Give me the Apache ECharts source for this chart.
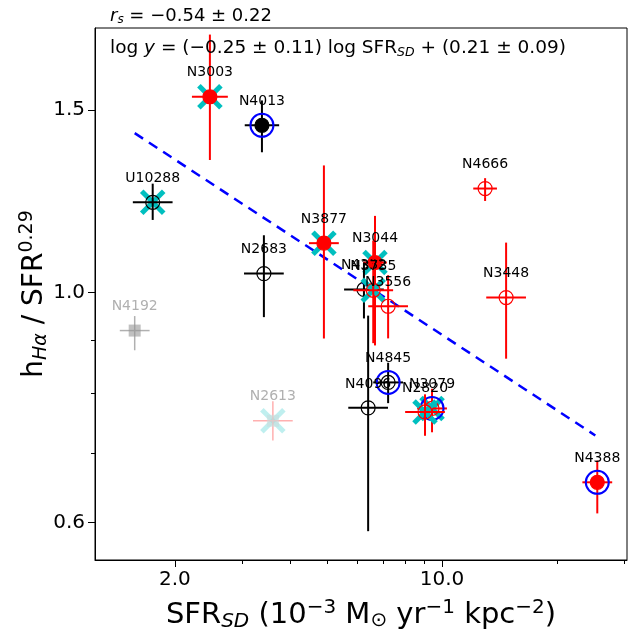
<!DOCTYPE html>
<html><head><meta charset="utf-8">
<script src="https://cdn.jsdelivr.net/npm/echarts@6/dist/echarts.min.js"></script>
<style>body{margin:0}#c{width:637px;height:633px}</style>
</head><body><div id="c"></div>
<script>
// galaxy data: SFR surface density, scaled scale height, errors in dex
var names  = ['N3003','N4013','U10288','N3877','N2683','N4666','N3448','N3044','N4332','N3735','N3556','N4845','N4096','N3079','N2820','N4388','N4192','N2613'];
var sfr    = [2.47, 3.38, 1.75, 4.91, 3.42, 12.97, 14.72, 6.68, 6.25, 6.61, 7.23, 7.23, 6.41, 9.42, 9.03, 25.5, 1.57, 3.61];
var hval   = [1.545, 1.45, 1.222, 1.116, 1.043, 1.26, 0.989, 1.069, 1.007, 1.005, 0.970, 0.819, 0.774, 0.773, 0.767, 0.656, 0.919, 0.752];
var xErr   = [0.047, 0.045, 0.052, 0.039, 0.052, 0.031, 0.052, 0.031, 0.052, 0.052, 0.052, 0.039, 0.052, 0.039, 0.052, 0.039, 0.039, 0.052];
var yErrHi = [0.060, 0.024, 0.018, 0.075, 0.037, 0.010, 0.053, 0.045, 0.026, 0.048, 0.030, 0.019, 0.089, 0.019, 0.017, 0.021, 0.014, 0.019];
var yErrLo = [0.061, 0.026, 0.017, 0.092, 0.042, 0.012, 0.059, 0.080, 0.028, 0.051, 0.031, 0.020, 0.119, 0.023, 0.023, 0.030, 0.019, 0.019];
var colour = ['r','k','k','r','k','r','r','r','k','r','r','k','k','r','r','r','g','p'];
var filled = [1,1,0,1,0,0,0,1,0,0,0,0,0,0,0,1,0,0];
var ring   = [0,1,0,0,0,0,0,0,0,0,0,1,0,1,0,1,0,0];
var cross  = [1,0,1,1,0,0,0,1,0,1,0,0,0,1,1,0,0,1];
var fitX = [1.57, 25.2];
var fitY = [1.425, 0.728];
var xTicks = [2, 10];
var xMinor = [3, 4, 5, 6, 7, 8, 9, 20, 30];
var yTicks = [0.6, 1.0, 1.5];
var yMinor = [0.7, 0.8, 0.9];

var L = Math.log10;
var cols = {r: '#ff0000', k: '#000000', g: '#b0b0b0', p: '#ffb0b0'};
var pts = names.map(function (n, i) { return [L(sfr[i]), L(hval[i]), i]; });

function renderItem(params, api) {
  var i = api.value(2);
  var lx = api.value(0), ly = api.value(1);
  var c = api.coord([lx, ly]);
  var x0 = api.coord([lx - xErr[i], ly]), x1 = api.coord([lx + xErr[i], ly]);
  var y0 = api.coord([lx, ly - yErrLo[i]]), y1 = api.coord([lx, ly + yErrHi[i]]);
  var col = cols[colour[i]];
  var faded = colour[i] === 'g' || colour[i] === 'p';
  var ch = [];
  if (cross[i]) {
    var cc = faded ? 'rgba(0,190,190,0.25)' : '#00bfbf';
    ch.push({type: 'line', shape: {x1: c[0] - 11, y1: c[1] - 11, x2: c[0] + 11, y2: c[1] + 11}, style: {stroke: cc, lineWidth: 5}});
    ch.push({type: 'line', shape: {x1: c[0] - 11, y1: c[1] + 11, x2: c[0] + 11, y2: c[1] - 11}, style: {stroke: cc, lineWidth: 5}});
  }
  var lw = faded ? 1.5 : 2;
  ch.push({type: 'line', shape: {x1: x0[0], y1: c[1], x2: x1[0], y2: c[1]}, style: {stroke: col, lineWidth: lw}});
  ch.push({type: 'line', shape: {x1: c[0], y1: y0[1], x2: c[0], y2: y1[1]}, style: {stroke: col, lineWidth: lw}});
  if (faded) {
    ch.push({type: 'rect', shape: {x: c[0] - 6, y: c[1] - 6, width: 12, height: 12}, style: {fill: colour[i] === 'g' ? 'rgba(150,150,150,0.6)' : 'rgba(200,220,220,0.6)'}});
  } else {
    if (ring[i]) ch.push({type: 'circle', shape: {cx: c[0], cy: c[1], r: 11.5}, style: {fill: 'none', stroke: '#0000ff', lineWidth: 2}});
    ch.push({type: 'circle', shape: {cx: c[0], cy: c[1], r: 7}, style: {fill: filled[i] ? col : 'none', stroke: col, lineWidth: 1.2}});
  }
  ch.push({type: 'text', style: {text: names[i], x: c[0], y: c[1] - 17, align: 'center', verticalAlign: 'bottom',
    font: '14px DejaVu Sans', fill: faded ? '#b0b0b0' : '#000'}});
  return {type: 'group', children: ch};
}

var myChart = echarts.init(document.getElementById('c'));
var ff = 'DejaVu Sans';
var xRange = [L(1.236), L(30.5)], yRange = [L(0.552), L(1.80)];
var option = {
  animation: false,
  textStyle: {fontFamily: ff},
  grid: {left: 95, right: 10, top: 28, bottom: 73, outerBoundsMode: 'none', containLabel: false, show: true, borderColor: '#000', borderWidth: 1},
  title: [
    {left: 105, top: 1, text: '{i|r}{s|s} = −0.54 ± 0.22', textStyle: {fontSize: 18, fontWeight: 'normal', color: '#000', rich: {i: {fontStyle: 'italic', fontSize: 18}, s: {fontStyle: 'italic', fontSize: 12, padding: [8, 0, 0, 0]}}}},
    {left: 105, top: 33, text: 'log {n|y} = (−0.25 ± 0.11) log SFR{s|SD} + (0.21 ± 0.09)', textStyle: {fontSize: 18.5, fontWeight: 'normal', color: '#000', rich: {n: {fontSize: 18.5, fontStyle: 'italic'}, s: {fontStyle: 'italic', fontSize: 12.5, padding: [8, 0, 0, 0]}}}}
  ],
  xAxis: [{
    type: 'value', min: xRange[0], max: xRange[1], splitLine: {show: false},
    axisLine: {onZero: false, lineStyle: {color: '#000'}},
    axisTick: {customValues: xTicks.map(L), length: 7, lineStyle: {color: '#000'}},
    axisLabel: {customValues: xTicks.map(L), fontSize: 20, color: '#000', margin: 10,
      formatter: function (v) { return Math.pow(10, v).toFixed(1); }},
    name: 'SFR{s|SD} (10{p|−3} M{p2|⊙} yr{p|−1} kpc{p|−2})', nameLocation: 'middle', nameGap: 38,
    nameTextStyle: {fontSize: 29, color: '#000', rich: {
      s: {fontSize: 20, fontStyle: 'italic', padding: [14, 0, 0, 0]},
      p: {fontSize: 20, padding: [0, 0, 14, 0]},
      p2: {fontSize: 20, padding: [12, 0, 0, 0]}}}
  }, {
    type: 'value', min: xRange[0], max: xRange[1], position: 'bottom', splitLine: {show: false},
    axisLine: {show: false, onZero: false}, axisLabel: {show: false},
    axisTick: {customValues: xMinor.map(L), length: 4, lineStyle: {color: '#000'}}
  }],
  yAxis: [{
    type: 'value', min: yRange[0], max: yRange[1], splitLine: {show: false},
    axisLine: {onZero: false, lineStyle: {color: '#000'}},
    axisTick: {customValues: yTicks.map(L), length: 7, lineStyle: {color: '#000'}},
    axisLabel: {customValues: yTicks.map(L), fontSize: 20, color: '#000', margin: 10,
      formatter: function (v) { return Math.pow(10, v).toFixed(1); }},
    name: 'h{s|Hα} / SFR{p|0.29}', nameLocation: 'middle', nameGap: 44, nameRotate: 90, nameMoveOverlap: false,
    nameTextStyle: {fontSize: 28, color: '#000', rich: {
      s: {fontSize: 19, fontStyle: 'italic', padding: [14, 0, 0, 0]},
      p: {fontSize: 19, padding: [0, 0, 14, 0]}}}
  }, {
    type: 'value', min: yRange[0], max: yRange[1], position: 'left', splitLine: {show: false},
    axisLine: {show: false, onZero: false}, axisLabel: {show: false},
    axisTick: {customValues: yMinor.map(L), length: 4, lineStyle: {color: '#000'}}
  }],
  series: [{
    type: 'line', data: [[L(fitX[0]), L(fitY[0])], [L(fitX[1]), L(fitY[1])]], symbol: 'none', z: 1,
    lineStyle: {color: '#0000ff', width: 2.5, type: [10, 7]}
  }, {
    type: 'custom', renderItem: renderItem, data: pts, z: 2
  }]
};
myChart.setOption(option);
</script></body></html>
